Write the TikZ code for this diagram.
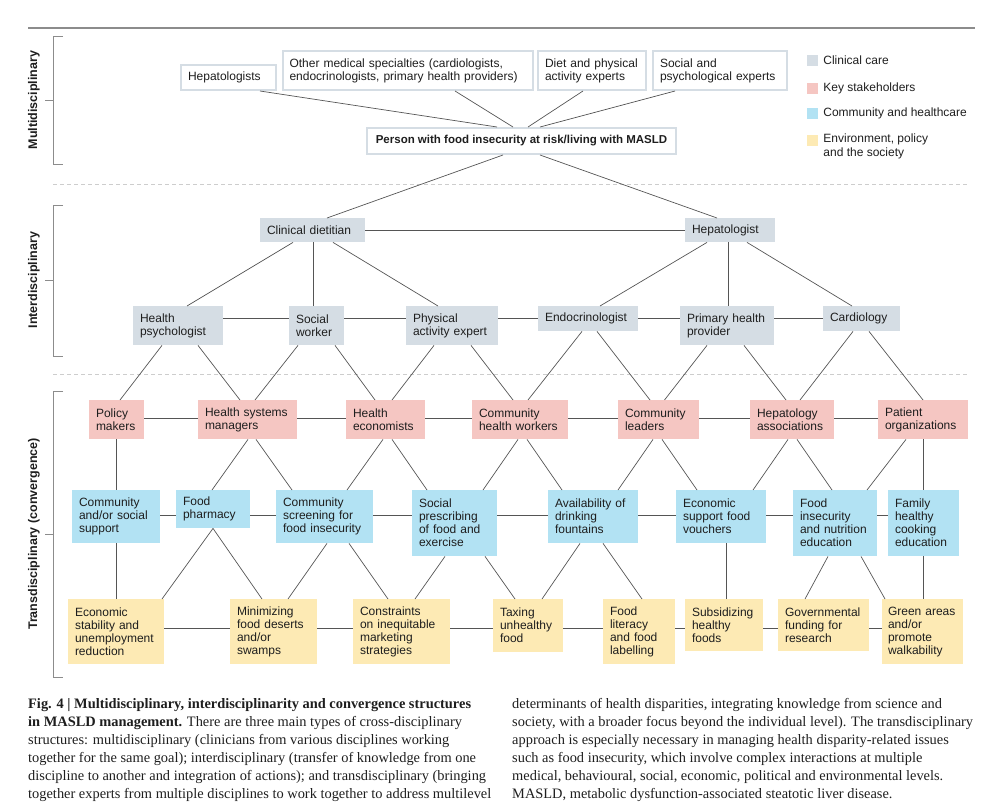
\documentclass[tikz,border=0pt]{standalone}
\usepackage{fontspec}
\setmainfont{Liberation Serif}
\setsansfont{Liberation Sans}
\usetikzlibrary{positioning}
\hyphenpenalty=10000
\exhyphenpenalty=10000

\definecolor{clinc}{RGB}{213,221,228}
\definecolor{stakec}{RGB}{245,198,194}
\definecolor{commc}{RGB}{178,226,243}
\definecolor{envc}{RGB}{253,234,180}
\definecolor{linec}{RGB}{85,85,85}
\definecolor{rulec}{RGB}{140,140,140}
\definecolor{dashc}{RGB}{205,205,205}
\definecolor{txtc}{RGB}{30,30,30}

\tikzset{
  box/.style={anchor=north, inner xsep=7pt, inner ysep=0pt, align=left,
    font=\sffamily\fontsize{12}{13}\selectfont, text=txtc},
  topbox/.style={box, anchor=south, fill=white, draw=clinc, line width=2pt},
  clinbox/.style={box, fill=clinc},
  stakebox/.style={box, fill=stakec},
  commbox/.style={box, fill=commc},
  envbox/.style={box, fill=envc},
  conn/.style={draw=linec, line width=0.7pt},
  bracket/.style={draw=rulec, line width=0.8pt},
  levlabel/.style={rotate=90, inner sep=0pt, text=txtc,
    font=\sffamily\bfseries\fontsize{12.5}{14}\selectfont},
  legsq/.style={minimum size=11pt, inner sep=0pt},
  legtxt/.style={inner sep=0pt, align=left, text=txtc,
    font=\sffamily\fontsize{12}{14}\selectfont},
  captxt/.style={inner sep=0pt, align=left, text=txtc,
    font=\rmfamily\fontsize{14.4}{18}\selectfont}
}

\begin{document}
\begin{tikzpicture}[x=1pt, y=-1pt]
\useasboundingbox (0,0) rectangle (1000,811);
\draw[rulec, line width=1.5pt] (28,28) -- (975,28);

% level brackets
\draw[bracket] (63,36) -- (53,36) -- (53,164) -- (63,164) (45,100) -- (53,100);
\node[levlabel] (multi) at (34,100) {Multidisciplinary};
\draw[bracket] (63,205) -- (53,205) -- (53,356) -- (63,356) (45,280) -- (53,280);
\node[levlabel] (inter) at (34,280) {Interdisciplinary};
\draw[bracket] (63,391) -- (53,391) -- (53,677) -- (63,677) (45,534) -- (53,534);
\node[levlabel] (trans) at (34,534) {Transdisciplinary (convergence)};
\draw[dashc, dashed, dash pattern=on 4pt off 3pt, line width=0.8pt] (53,184) -- (968,184) (53,374) -- (968,374);

% multidisciplinary
\node[topbox, text width=81pt, minimum height=25pt] (hepa) at (228.5,91) {Hepatologists};
\node[topbox, text width=236pt, minimum height=39pt] (other) at (407.5,91) {Other medical specialties (cardiologists,\\endocrinologists, primary health providers)};
\node[topbox, text width=94pt, minimum height=39pt] (diet) at (592,91) {Diet and physical\\activity experts};
\node[topbox, text width=120pt, minimum height=39pt] (socx) at (720,91) {Social and\\psychological experts};
\node[topbox, anchor=north, align=center, minimum width=309pt, minimum height=26pt,
  font=\sffamily\bfseries\fontsize{11.5}{13}\selectfont] (pers) at (521.5,127) {Person with food insecurity at risk/living with MASLD};

% interdisciplinary
\node[clinbox, text width=91pt, minimum height=24pt] (cd) at (312.5,218) {Clinical dietitian};
\node[clinbox, text width=76pt, minimum height=24pt] (hp) at (730,218) {Hepatologist};
\node[clinbox, text width=76pt, minimum height=39pt] (hpsy) at (178,306) {Health\\psychologist};
\node[clinbox, text width=41pt, minimum height=39pt] (sw) at (316.5,306) {Social\\worker};
\node[clinbox, text width=78pt, minimum height=39pt] (pae) at (452,306) {Physical\\activity expert};
\node[clinbox, text width=86pt, minimum height=25pt] (endo) at (588,306) {Endocrinologist};
\node[clinbox, text width=80pt, minimum height=39pt] (php) at (727,306) {Primary health\\provider};
\node[clinbox, text width=63pt, minimum height=25pt] (card) at (861.5,306) {Cardiology};

% transdisciplinary: stakeholders
\node[stakebox, text width=41pt, minimum height=39pt] (pm) at (116.5,400) {Policy\\makers};
\node[stakebox, text width=85pt, minimum height=39pt] (hsm) at (247.5,400) {Health systems\\managers};
\node[stakebox, text width=65pt, minimum height=39pt] (he) at (385.5,400) {Health\\economists};
\node[stakebox, text width=82pt, minimum height=39pt] (chw) at (520,400) {Community\\health workers};
\node[stakebox, text width=67pt, minimum height=39pt] (cl) at (658.5,400) {Community\\leaders};
\node[stakebox, text width=70pt, minimum height=39pt] (ha) at (792,400) {Hepatology\\associations};
\node[stakebox, text width=76pt, minimum height=39pt] (po) at (923,400) {Patient\\organizations};

% community and healthcare
\node[commbox, text width=74pt, minimum height=53pt] (css) at (116,490) {Community\\and/or social\\support};
\node[commbox, text width=60pt, minimum height=38pt] (fp) at (213,490) {Food\\pharmacy};
\node[commbox, text width=83pt, minimum height=53pt] (cs) at (324.5,490) {Community\\screening for\\food insecurity};
\node[commbox, text width=71pt, minimum height=66pt] (sp) at (454.5,490) {Social\\prescribing\\of food and\\exercise};
\node[commbox, text width=76pt, minimum height=53pt] (av) at (593,490) {Availability of\\drinking\\fountains};
\node[commbox, text width=76pt, minimum height=53pt] (es) at (721,490) {Economic\\support food\\vouchers};
\node[commbox, text width=70pt, minimum height=66pt] (fine) at (835,490) {Food\\insecurity\\and nutrition\\education};
\node[commbox, text width=57pt, minimum height=66pt] (fhc) at (923.5,490) {Family\\healthy\\cooking\\education};

% environment, policy and the society
\node[envbox, text width=82pt, minimum height=65pt] (ecs) at (116,599) {Economic\\stability and\\unemployment\\reduction};
\node[envbox, text width=73pt, minimum height=65pt] (mfd) at (273.5,599) {Minimizing\\food deserts\\and/or\\swamps};
\node[envbox, text width=83pt, minimum height=65pt] (con) at (401.5,599) {Constraints\\on inequitable\\marketing\\strategies};
\node[envbox, text width=56pt, minimum height=53pt] (tax) at (528,599) {Taxing\\unhealthy\\food};
\node[envbox, text width=58pt, minimum height=65pt] (fl) at (639,599) {Food\\literacy\\and food\\labelling};
\node[envbox, text width=64pt, minimum height=52pt] (sub) at (724,599) {Subsidizing\\healthy\\foods};
\node[envbox, text width=77pt, minimum height=52pt] (gov) at (823.5,599) {Governmental\\funding for\\research};
\node[envbox, inner xsep=6pt, text width=69pt, minimum height=65pt] (grn) at (922.5,599) {Green areas\\and/or\\promote\\walkability};

% links between levels
\foreach \a/\sa/\b/\sb in {
  hepa/31.5/pers/-24.5, other/47.5/pers/-8.5, diet/-9/pers/6.5, socx/-45/pers/18.5,
  pers/-18.5/cd/14.5, pers/18.5/hp/-13,
  cd/-19.5/hpsy/9, cd/0.5/sw/-3.5, cd/20.5/pae/-14,
  hp/-23/endo/12, hp/-2/php/1, hp/17/card/-9.5,
  hpsy/-16/pm/3.5, hpsy/20/hsm/-7.5, sw/-18.5/hsm/7.5, sw/18.5/he/-10.5,
  pae/-18/he/6.5, pae/19/chw/-7, endo/-6/chw/8, endo/9/cl/-8.5,
  php/-20/cl/6, php/17/ha/-6, card/-8.5/ha/8, card/7.5/po/0,
  pm/-0.5/css/0, hsm/0.5/fp/-1, hsm/8.5/cs/-32.5, he/-2.5/cs/22.5, he/6.5/sp/-27.5,
  chw/-2/sp/28.5, chw/7/av/-31, cl/-5.5/av/25, cl/3.5/es/-24, ha/-4/es/32, ha/5/fine/-3,
  po/-17/fine/32, po/0/fhc/-0.5,
  css/0/ecs/0, fp/0/ecs/46, fp/0/mfd/-11.5, cs/2.5/mfd/14.5, cs/24.5/con/-13.5,
  sp/-9.5/con/13.5, sp/30.5/tax/-13, av/-13/tax/14, av/10/fl/3, es/5/sub/2,
  fine/-7/gov/-18.5, fine/26/grn/-37.5, fhc/-0.5/grn/0.5}
  \draw[conn] ([xshift=\sa]\a.south) -- ([xshift=\sb]\b.north);

% links within a level
\draw[conn] (cd.east) -- (hp.west);
\foreach \a/\b in {hpsy/sw, sw/pae, pae/endo, endo/php, php/card}
  \draw[conn] ([yshift=-12pt]\a.north east) -- ([yshift=-12pt]\b.north west);
\foreach \a/\b in {pm/hsm, hsm/he, he/chw, chw/cl, cl/ha, ha/po}
  \draw[conn] ([yshift=-18pt]\a.north east) -- ([yshift=-18pt]\b.north west);
\foreach \a/\b in {css/fp, fp/cs, cs/sp, sp/av, av/es, es/fine, fine/fhc}
  \draw[conn] ([yshift=-25pt]\a.north east) -- ([yshift=-25pt]\b.north west);
\foreach \a/\b in {ecs/mfd, mfd/con, con/tax, tax/fl, fl/sub, sub/gov, gov/grn}
  \draw[conn] ([yshift=-29pt]\a.north east) -- ([yshift=-29pt]\b.north west);

% legend
\node[legsq, fill=clinc] (lgclin) at (812.5,60.5) {};
\node[legtxt, right=5pt of lgclin] (ltclin) {Clinical care};
\node[legsq, fill=stakec] (lgstake) at (812.5,88) {};
\node[legtxt, right=5pt of lgstake] (ltstake) {Key stakeholders};
\node[legsq, fill=commc] (lgcomm) at (812.5,113) {};
\node[legtxt, right=5pt of lgcomm] (ltcomm) {Community and healthcare};
\node[legsq, fill=envc] (lgenv) at (812.5,140) {};
\node[legtxt, anchor=north west] (ltenv) at ([xshift=5pt,yshift=1pt]lgenv.north east) {Environment, policy\\and the society};

% caption
\node[captxt, anchor=north west] (capl) at (28,698) {\textbf{Fig. 4 | Multidisciplinary, interdisciplinarity and convergence structures}\\
\textbf{in MASLD management.} There are three main types of cross-disciplinary\\
structures: multidisciplinary (clinicians from various disciplines working\\
together for the same goal); interdisciplinary (transfer of knowledge from one\\
discipline to another and integration of actions); and transdisciplinary (bringing\\
together experts from multiple disciplines to work together to address multilevel};
\node[captxt, anchor=north west] (capr) at (512,698) {determinants of health disparities, integrating knowledge from science and\\
society, with a broader focus beyond the individual level). The transdisciplinary\\
approach is especially necessary in managing health disparity-related issues\\
such as food insecurity, which involve complex interactions at multiple\\
medical, behavioural, social, economic, political and environmental levels.\\
MASLD, metabolic dysfunction-associated steatotic liver disease.};
\end{tikzpicture}
\end{document}
